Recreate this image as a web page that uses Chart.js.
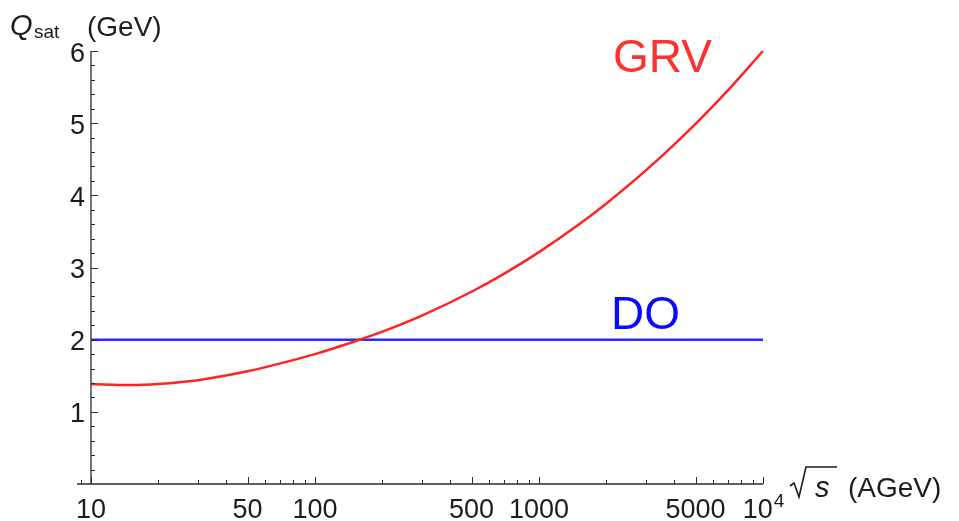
<!DOCTYPE html>
<html>
<head>
<meta charset="utf-8">
<script src="https://cdn.jsdelivr.net/npm/chart.js@4.4.1/dist/chart.umd.min.js"></script>
<style>
  html, body { margin: 0; padding: 0; background: #fff; }
  #wrap { width: 959px; height: 521px; }
</style>
</head>
<body>
<div id="wrap"><canvas id="chart" width="959" height="521"></canvas></div>
<script>
// sqrt(s) in AGeV
const energies = [10, 15, 20, 30, 50, 70, 100, 150, 200, 300, 500, 700, 1000, 1500, 2000, 3000, 5000, 7000, 10000];
// Q_sat from GRV gluons, GeV
const grvValues = [1.385, 1.371, 1.386, 1.439, 1.561, 1.671, 1.80, 1.975, 2.111, 2.333, 2.664, 2.915, 3.213, 3.592, 3.888, 4.345, 4.991, 5.461, 6.0];
// constant DO estimate
const doEnergies = [10, 10000];
const doValues = [2, 2];

const xMajorTicks = [10, 50, 100, 500, 1000, 5000, 10000];
const xMinorTicks = [9, 20, 30, 40, 60, 70, 80, 90, 200, 300, 400, 600, 700, 800, 900,
  2000, 3000, 4000, 6000, 7000, 8000, 9000];
const xTickLabels = ["10", "50", "100", "500", "1000", "5000", "10^4"];
const yMajorTicks = [1, 2, 3, 4, 5, 6];
const yTickLabels = ["1", "2", "3", "4", "5", "6"];

const FONT = '"Liberation Sans", Arial, sans-serif';
const AXIS_COLOR = "#2b2b2b";
const TEXT_COLOR = "#1c1c1c";

const toPoints = (xs, ys) => xs.map((x, i) => ({ x: x, y: ys[i] }));

// Mathematica-style axes crossing at (10, 0), ticks pointing inwards
const axesPlugin = {
  id: "axesPlugin",
  afterDraw(chart) {
    const ctx = chart.ctx;
    const xs = chart.scales.x;
    const ys = chart.scales.y;
    const area = chart.chartArea;
    const x0 = xs.getPixelForValue(10);
    const y0 = ys.getPixelForValue(0);

    ctx.save();
    ctx.strokeStyle = AXIS_COLOR;
    ctx.lineWidth = 1.3;

    ctx.beginPath();
    ctx.moveTo(area.left, y0);
    ctx.lineTo(xs.getPixelForValue(10000), y0);
    ctx.moveTo(x0, y0);
    ctx.lineTo(x0, ys.getPixelForValue(6));
    ctx.stroke();

    ctx.lineWidth = 1;
    ctx.beginPath();
    xMajorTicks.forEach((v) => {
      const px = Math.round(xs.getPixelForValue(v)) + 0.5;
      ctx.moveTo(px, y0);
      ctx.lineTo(px, y0 - 7);
    });
    xMinorTicks.forEach((v) => {
      const px = Math.round(xs.getPixelForValue(v)) + 0.5;
      ctx.moveTo(px, y0);
      ctx.lineTo(px, y0 - 4);
    });
    for (let i = 1; i <= 30; i++) {
      const v = i * 0.2;
      const py = Math.round(ys.getPixelForValue(v)) + 0.5;
      const len = i % 5 === 0 ? 7 : 4;
      ctx.moveTo(x0, py);
      ctx.lineTo(x0 + len, py);
    }
    ctx.stroke();

    // tick labels
    ctx.fillStyle = TEXT_COLOR;
    ctx.font = "27px " + FONT;
    ctx.textBaseline = "alphabetic";
    xMajorTicks.forEach((v, i) => {
      const px = xs.getPixelForValue(v);
      const label = xTickLabels[i];
      if (label.indexOf("^") > 0) {
        const parts = label.split("^");
        ctx.font = "27px " + FONT;
        const w1 = ctx.measureText(parts[0]).width;
        ctx.font = "19px " + FONT;
        const w2 = ctx.measureText(parts[1]).width;
        const left = px - (w1 + w2) / 2;
        ctx.textAlign = "left";
        ctx.font = "27px " + FONT;
        ctx.fillText(parts[0], left, 518);
        ctx.font = "19px " + FONT;
        ctx.fillText(parts[1], left + w1 + 1, 507);
      } else {
        ctx.font = "27px " + FONT;
        ctx.textAlign = "center";
        ctx.fillText(label, px, 518);
      }
    });
    ctx.font = "27px " + FONT;
    ctx.textAlign = "right";
    yMajorTicks.forEach((v, i) => {
      ctx.fillText(yTickLabels[i], 85, ys.getPixelForValue(v) + 10.5);
    });

    // y axis title: Q_sat (GeV)
    ctx.textAlign = "left";
    ctx.font = "italic 29px " + FONT;
    ctx.fillText("Q", 10, 35);
    ctx.font = "19px " + FONT;
    ctx.fillText("sat", 34, 38);
    ctx.font = "28px " + FONT;
    ctx.fillText("(GeV)", 87, 36);

    // x axis title: sqrt(s) (AGeV)
    ctx.lineWidth = 1.6;
    ctx.strokeStyle = TEXT_COLOR;
    ctx.beginPath();
    ctx.moveTo(790, 486);
    ctx.lineTo(794, 483);
    ctx.lineTo(799, 497);
    ctx.lineTo(806, 467);
    ctx.lineTo(837, 467);
    ctx.stroke();
    ctx.font = "italic 29px " + FONT;
    ctx.fillText("s", 815, 497);
    ctx.font = "28px " + FONT;
    ctx.fillText("(AGeV)", 848, 497);

    // curve labels
    ctx.font = "46px " + FONT;
    ctx.fillStyle = "#ff3030";
    ctx.fillText("GRV", 613, 72);
    ctx.fillStyle = "#0a0aff";
    ctx.fillText("DO", 611, 329);
    ctx.restore();
  },
};

new Chart(document.getElementById("chart"), {
  type: "line",
  data: {
    datasets: [
      {
        label: "GRV",
        data: toPoints(energies, grvValues),
        borderColor: "#ff2424",
        borderWidth: 2.5,
        pointRadius: 0,
        cubicInterpolationMode: "monotone",
        clip: false,
      },
      {
        label: "DO",
        data: toPoints(doEnergies, doValues),
        borderColor: "#2b2bff",
        borderWidth: 2.5,
        pointRadius: 0,
        clip: false,
      },
    ],
  },
  options: {
    responsive: false,
    animation: false,
    devicePixelRatio: 1,
    layout: { padding: { left: 77, right: 196, top: 51, bottom: 37 } },
    plugins: { legend: { display: false }, tooltip: { enabled: false } },
    scales: {
      x: { type: "logarithmic", min: 8.66, max: 10000, display: false },
      y: { type: "linear", min: 0, max: 6, display: false },
    },
  },
  plugins: [axesPlugin],
});
</script>
</body>
</html>
